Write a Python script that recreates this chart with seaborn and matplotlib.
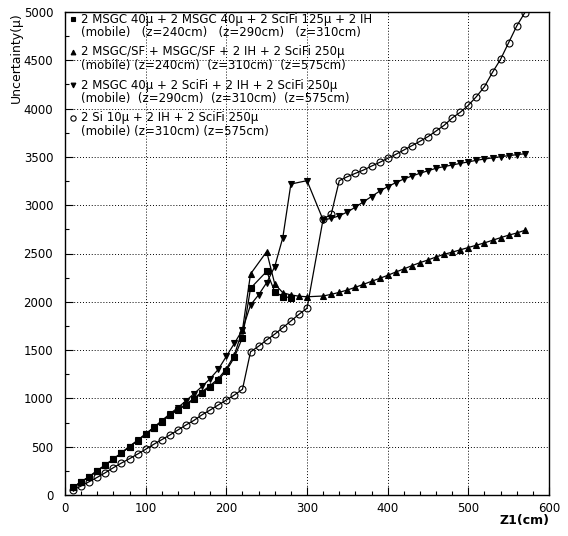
import matplotlib
matplotlib.use("Agg")
import matplotlib.pyplot as plt
import seaborn as sns
import pandas as pd
from matplotlib.ticker import MultipleLocator

# ---------------- data ----------------
sq_x = [10, 20, 30, 40, 50, 60, 70, 80, 90, 100, 110, 120, 130, 140, 150, 160,
        170, 180, 190, 200, 210, 220, 230, 250, 260, 270, 280]
sq_y = [80, 138, 190, 252, 311, 371, 434, 500, 562, 628, 692, 759, 825, 880, 932, 990,
        1059, 1121, 1190, 1287, 1425, 1630, 2140, 2315, 2105, 2053, 2043]

up_x = [10, 20, 30, 40, 50, 60, 70, 80, 90, 100, 110, 120, 130, 140, 150, 160,
        170, 180, 190, 200, 210, 220, 230, 250, 260, 270, 280, 290, 300,
        320, 330, 340, 350, 360, 370, 380, 390, 400, 410, 420, 430, 440, 450,
        460, 470, 480, 490, 500, 510, 520, 530, 540, 550, 560, 570]
up_y = [78, 136, 189, 251, 311, 372, 436, 502, 565, 631, 696, 764, 831, 888, 940, 1000,
        1070, 1133, 1205, 1305, 1450, 1708, 2288, 2519, 2185, 2094, 2071, 2058, 2052,
        2060, 2077, 2098, 2122, 2150, 2181, 2212, 2242, 2274, 2308, 2340, 2374, 2405, 2433,
        2464, 2492, 2514, 2538, 2562, 2586, 2610, 2637, 2664, 2690, 2712, 2740]

dn_x = [10, 20, 30, 40, 50, 60, 70, 80, 90, 100, 110, 120, 130, 140, 150, 160,
        170, 180, 190, 200, 210, 220, 230, 240, 250, 260, 270, 280, 300,
        320, 330, 340, 350, 360, 370, 380, 390, 400, 410, 420, 430, 440, 450,
        460, 470, 480, 490, 500, 510, 520, 530, 540, 550, 560, 570]
dn_y = [75, 134, 188, 250, 310, 372, 436, 502, 566, 633, 700, 770, 840, 905, 975, 1050,
        1125, 1205, 1300, 1435, 1570, 1710, 1967, 2072, 2198, 2364, 2664, 3219, 3254,
        2847, 2864, 2890, 2930, 2980, 3035, 3090, 3145, 3192, 3233, 3271, 3302, 3330, 3357,
        3382, 3400, 3416, 3433, 3448, 3465, 3478, 3490, 3502, 3513, 3523, 3533]

ci_x = [10, 20, 30, 40, 50, 60, 70, 80, 90, 100, 110, 120, 130, 140, 150, 160,
        170, 180, 190, 200, 210, 220, 230, 240, 250, 260, 270, 280, 290, 300,
        320, 330, 340, 350, 360, 370, 380, 390, 400, 410, 420, 430, 440, 450,
        460, 470, 480, 490, 500, 510, 520, 530, 540, 550, 560, 570]
ci_y = [52, 93, 138, 183, 231, 283, 331, 376, 424, 473, 525, 573, 621, 673, 725, 773,
        831, 880, 932, 983, 1035, 1094, 1482, 1540, 1605, 1665, 1732, 1801, 1870, 1933,
        2857, 2906, 3254, 3295, 3330, 3364, 3405, 3443, 3485, 3526, 3571, 3616, 3661, 3710,
        3768, 3827, 3903, 3962, 4034, 4124, 4227, 4376, 4511, 4683, 4855, 4993]

labels = [
    "2 MSGC 40μ + 2 MSGC 40μ + 2 SciFi 125μ + 2 IH\n(mobile)   (z=240cm)   (z=290cm)   (z=310cm)",
    "2 MSGC/SF + MSGC/SF + 2 IH + 2 SciFi 250μ\n(mobile) (z=240cm)  (z=310cm)  (z=575cm)",
    "2 MSGC 40μ + 2 SciFi + 2 IH + 2 SciFi 250μ\n(mobile)  (z=290cm)  (z=310cm)  (z=575cm)",
    "2 Si 10μ + 2 IH + 2 SciFi 250μ\n(mobile) (z=310cm) (z=575cm)",
]
x_ticks = [0, 100, 200, 300, 400, 500, 600]
y_ticks = [0, 500, 1000, 1500, 2000, 2500, 3000, 3500, 4000, 4500, 5000]

# ---------------- style ----------------
plt.rcParams['font.family'] = ['DejaVu Sans']

W, H = 568, 536
fig = plt.figure(figsize=(W / 100, H / 100), dpi=100)
AX_L, AX_R, AX_T, AX_B = 65, 549, 12, 495
ax = fig.add_axes([AX_L / W, 1 - AX_B / H, (AX_R - AX_L) / W, (AX_B - AX_T) / H])

styles = [
    dict(marker='s', markersize=4.0, markerfacecolor='black'),
    dict(marker='^', markersize=4.2, markerfacecolor='black'),
    dict(marker='v', markersize=4.2, markerfacecolor='black'),
    dict(marker='o', markersize=5.0, markerfacecolor='none'),
]
series = [(sq_x, sq_y), (up_x, up_y), (dn_x, dn_y), (ci_x, ci_y)]
for (xs, ys), kw in zip(series, styles):
    df = pd.DataFrame({"z1": xs, "unc": ys})
    sns.lineplot(data=df, x="z1", y="unc", ax=ax, color='black', linewidth=0.9,
                 estimator=None, sort=False, legend=False,
                 markeredgecolor='black', markeredgewidth=0.8, **kw)

ax.set_xlim(0, 600)
ax.set_ylim(0, 5000)
ax.set_xticks(x_ticks)
ax.set_yticks(y_ticks)
ax.xaxis.set_minor_locator(MultipleLocator(20))
ax.yaxis.set_minor_locator(MultipleLocator(250))
ax.tick_params(which='both', direction='in', top=False, right=False, colors='black',
               labelsize=8.5, width=0.8)
ax.tick_params(which='major', length=6)
ax.tick_params(which='minor', length=3)
ax.tick_params(axis='y', pad=8.5)
ax.tick_params(axis='x', pad=5)

ax.grid(True, which='major', color='black', linestyle=(0, (1, 2)), linewidth=0.7)
ax.set_axisbelow(True)
for s in ax.spines.values():
    s.set_linewidth(1.0)
    s.set_color('black')

ax.set_ylabel("Uncertainty(μ)", loc='top', fontsize=9)
ax.yaxis.set_label_coords(-0.087, 1.0)
ax.set_xlabel("Z1(cm)", loc='right', fontsize=9, fontweight='bold')
ax.xaxis.set_label_coords(1.0, -0.04)
ax.xaxis.label.set_verticalalignment('top')


# ---------------- legend (marker on first line, two text lines) ----------------
def ax_frac(px, py):
    return (px - AX_L) / (AX_R - AX_L), (AX_B - py) / (AX_B - AX_T)


leg_ms = [3.0, 3.4, 3.4, 3.8]
for i, (lab, kw) in enumerate(zip(labels, styles)):
    top_py = 19 + 33 * i
    mx, my = ax_frac(73, top_py)
    ax.plot([mx], [my], transform=ax.transAxes, linestyle='none', marker=kw['marker'],
            markersize=leg_ms[i], markerfacecolor=kw['markerfacecolor'],
            markeredgecolor='black', markeredgewidth=0.8, clip_on=False)
    for j, line in enumerate(lab.split("\n")):
        tx, ty = ax_frac(81, top_py + 13.5 * j)
        ax.text(tx, ty, line, transform=ax.transAxes, fontsize=8.5, ha='left',
                va='center', color='black')

fig.savefig("out.png", dpi=100, facecolor='white')
